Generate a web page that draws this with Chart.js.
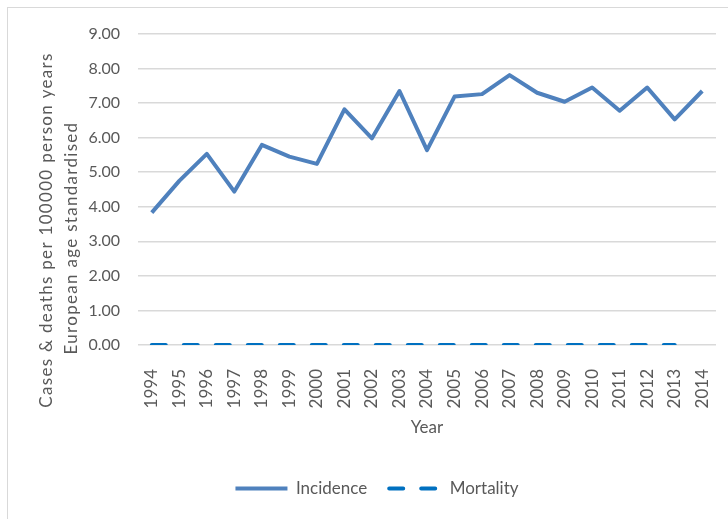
<!DOCTYPE html>
<html>
<head>
<meta charset="utf-8">
<script src="https://cdn.jsdelivr.net/npm/chart.js@4.4.1/dist/chart.umd.min.js"></script>
<style>
    html, body { margin: 0; padding: 0; background: #fff; }
    #wrap { width: 728px; height: 519px; }
</style>
</head>
<body>
<div id="wrap"><canvas id="myChart" width="728" height="519"></canvas></div>
<script>
const years = ['1994', '1995', '1996', '1997', '1998', '1999', '2000', '2001', '2002', '2003', '2004',
    '2005', '2006', '2007', '2008', '2009', '2010', '2011', '2012', '2013', '2014'];
const incidence = [3.83, 4.75, 5.53, 4.44, 5.79, 5.45, 5.24, 6.82, 5.98, 7.35, 5.64,
    7.19, 7.26, 7.81, 7.30, 7.04, 7.45, 6.78, 7.45, 6.53, 7.35];
const mortality = [0, 0, 0, 0, 0, 0, 0, 0, 0, 0, 0,
    0, 0, 0, 0, 0, 0, 0, 0, 0, null];
const yTitle = ['Cases & deaths per 100000 person years', 'European age standardised'];

const textColor = '#595959';
const fontFamily = 'Lato, "Open Sans", sans-serif';

// border round the chart + the rotated two-line y title
const extras = {
    id: 'extras',
    afterDraw(chart) {
        const c = chart.ctx;
        c.save();
        c.strokeStyle = '#d9d9d9';
        c.lineWidth = 1;
        c.strokeRect(7.5, 7.5, 800, 800);
        c.fillStyle = textColor;
        c.font = '17px ' + fontFamily;
        c.letterSpacing = '1.3px';
        c.textAlign = 'center';
        c.textBaseline = 'middle';
        c.rotate(-Math.PI / 2);
        c.fillText(yTitle[0], -230, 47);
        c.fillText(yTitle[1], -238, 72);
        c.restore();
    }
};

const ctx = document.getElementById('myChart').getContext('2d');

new Chart(ctx, {
    type: 'line',
    data: {
        labels: years,
        datasets: [{
            label: 'Incidence',
            data: incidence,
            borderColor: '#4f81bd',
            backgroundColor: '#4f81bd',
            borderWidth: 4,
            borderJoinStyle: 'round',
            pointRadius: 0,
            tension: 0
        }, {
            label: 'Mortality',
            data: mortality,
            borderColor: '#0070c0',
            backgroundColor: '#0070c0',
            borderWidth: 4,
            borderDash: [14, 18],
            borderCapStyle: 'round',
            pointRadius: 0,
            tension: 0
        }]
    },
    options: {
        responsive: false,
        animation: false,
        layout: {
            padding: { left: 38, top: 34, right: 12, bottom: 12 }
        },
        plugins: {
            legend: {
                position: 'bottom',
                labels: {
                    usePointStyle: true,
                    pointStyle: 'line',
                    pointStyleWidth: 52,
                    color: textColor,
                    padding: 22,
                    font: { family: fontFamily, size: 17 },
                    generateLabels(chart) {
                        const items = Chart.defaults.plugins.legend.labels.generateLabels(chart);
                        items.forEach((it) => {
                            const ds = chart.data.datasets[it.datasetIndex];
                            it.strokeStyle = ds.borderColor;
                            it.lineWidth = ds.borderWidth;
                            it.lineDash = ds.borderDash || [];
                            it.lineCap = ds.borderCapStyle || 'butt';
                        });
                        return items;
                    }
                }
            },
            tooltip: { enabled: false }
        },
        scales: {
            x: {
                offset: true,
                grid: { display: false },
                border: { display: false },
                ticks: {
                    color: textColor,
                    minRotation: 90,
                    maxRotation: 90,
                    padding: 16,
                    font: { family: fontFamily, size: 17 }
                },
                title: {
                    display: true,
                    text: 'Year',
                    color: textColor,
                    padding: { top: 4, bottom: 20 },
                    font: { family: fontFamily, size: 17 }
                },
                afterFit(scale) {
                    scale.height = 113;
                    scale.paddingLeft = 0;
                    scale.paddingRight = 0;
                }
            },
            y: {
                min: 0,
                max: 9,
                grid: { color: '#d9d9d9', lineWidth: 1.5, drawTicks: false },
                border: { display: false },
                ticks: {
                    stepSize: 1,
                    color: textColor,
                    padding: 18,
                    font: { family: fontFamily, size: 16 },
                    callback: (v) => v.toFixed(2)
                },
                afterFit(scale) { scale.width = 100; }
            }
        }
    },
    plugins: [extras]
});
</script>
</body>
</html>
